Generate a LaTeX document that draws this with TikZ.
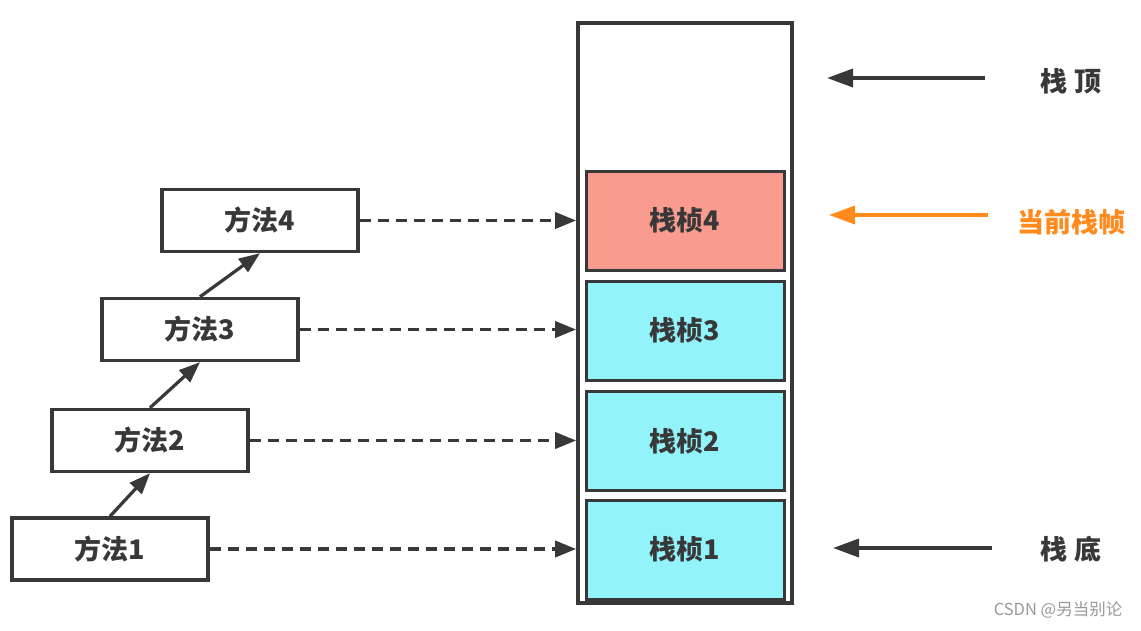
\documentclass[tikz,border=0pt]{standalone}
\usepackage{fontspec}
\setmainfont{Noto Sans CJK SC}
\usetikzlibrary{arrows.meta}
\definecolor{dk}{HTML}{383838}
\definecolor{salmon}{HTML}{F99C8F}
\definecolor{cyanf}{HTML}{93F3FB}
\definecolor{orng}{HTML}{FF8A1E}
\tikzset{
  method/.style={draw=dk, line width=3.4pt, fill=white, minimum width=196pt, minimum height=62pt, inner sep=0pt, font=\fontsize{27}{27}\selectfont\bfseries, text=dk},
  frame/.style={draw=dk, line width=3pt, minimum width=198pt, minimum height=99pt, inner sep=0pt, font=\fontsize{27}{27}\selectfont\bfseries, text=dk},
  tip/.style={-{Triangle[length=21pt,width=16pt]}},
  sidetip/.style={-{Triangle[length=26pt,width=18pt]}},
  solidarr/.style={tip, draw=dk, line width=3.2pt},
  dasharr/.style={tip, draw=dk, line width=3.6pt, dash pattern=on 11pt off 7pt},
  sidearr/.style={sidetip, draw=dk, line width=3.6pt},
  side/.style={font=\fontsize{27}{27}\selectfont\bfseries, text=dk},
}
\begin{document}
\begin{tikzpicture}[x=1pt,y=-1pt]
\useasboundingbox (0,0) rectangle (1141,630);
% stack
\node[draw=dk, line width=3.6pt, minimum width=214pt, minimum height=580pt, inner sep=0pt] (stack) at (685,313) {};
\node[frame, fill=salmon] (f4) at (685,220.5) {栈桢4};
\node[frame, fill=cyanf] (f3) at (685,330.5) {栈桢3};
\node[frame, fill=cyanf] (f2) at (685,441) {栈桢2};
\node[frame, fill=cyanf] (f1) at (685,549.5) {栈桢1};
% methods
\node[method] (m1) at (110,549) {方法1};
\node[method] (m2) at (150,440.5) {方法2};
\node[method] (m3) at (200,329.5) {方法3};
\node[method] (m4) at (260,220.5) {方法4};
% solid arrows
\draw[solidarr] (m1.north) -- (m2.south);
\draw[solidarr] (m2.north) -- (m3.south);
\draw[solidarr] (m3.north) -- (m4.south);
% dashed arrows
\draw[dasharr] (m4.east) -- (m4.east -| stack.west);
\draw[dasharr] (m3.east) -- (m3.east -| stack.west);
\draw[dasharr] (m2.east) -- (m2.east -| stack.west);
\draw[dasharr] (m1.east) -- (m1.east -| stack.west);
% side labels
\node[side] (top) at (1071,81) {栈\hspace{7pt}顶};
\node[side, text=orng] (cur) at (1071,222) {当前栈帧};
\node[side] (bot) at (1071,549) {栈\hspace{7pt}底};
\coordinate (topS) at (985,78);
\coordinate (topE) at (827,78);
\coordinate (curS) at (988,215);
\coordinate (curE) at (829,215);
\coordinate (botS) at (992,548);
\coordinate (botE) at (833,548);
\draw[sidearr] (topS) -- (topE);
\draw[sidetip, draw=orng, fill=orng, line width=3.6pt] (curS) -- (curE);
\draw[sidearr] (botS) -- (botE);
% watermark
\node[font=\fontsize{16.5}{16.5}\selectfont, text=gray!80] (wm) at (1058,610) {CSDN @另当别论};
\end{tikzpicture}
\end{document}
